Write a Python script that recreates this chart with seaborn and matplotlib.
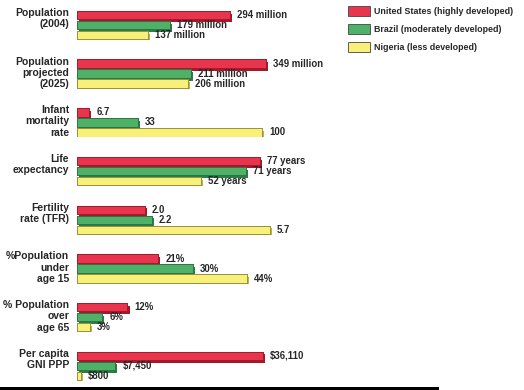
import pandas as pd
import matplotlib.pyplot as plt
import seaborn as sns
from matplotlib import patheffects
from matplotlib.patches import Patch, Rectangle

sns.set_style('white')
plt.rcParams['font.family'] = ['Liberation Sans', 'DejaVu Sans']
plt.rcParams['font.weight'] = 'bold'

# Data
countries = ['United States (highly developed)', 'Brazil (moderately developed)',
             'Nigeria (less developed)']
indicators = ['Population\n(2004)', 'Population\nprojected\n(2025)', 'Infant\nmortality\nrate',
              'Life\nexpectancy', 'Fertility\nrate (TFR)', '%Population\nunder\nage 15',
              '% Population\nover\nage 65', 'Per capita\nGNI PPP']
us = [294, 349, 6.7, 77, 2.0, 21, 12, 36110]
brazil = [179, 211, 33, 71, 2.2, 30, 6, 7450]
nigeria = [137, 206, 100, 52, 5.7, 44, 3, 800]
us_text = ['294 million', '349 million', '6.7', '77 years', '2.0', '21%', '12%', '$36,110']
brazil_text = ['179 million', '211 million', '33', '71 years', '2.2', '30%', '6%', '$7,450']
nigeria_text = ['137 million', '206 million', '100', '52 years', '5.7', '44%', '3%', '$800']

# each indicator has its own scale
x_max = [385, 370, 108, 84, 5.9, 51.7, 47.6, 38800]

colors = ['#e8344c', '#4fb068', '#f9f07a']
edges = ['#9c1a2a', '#2a7040', '#8f8a3a']
shadows = ['#a3182b', '#2f7a47', '#bdb148']

W, H = 524, 390
fig = plt.figure(figsize=(W / 100, H / 100), dpi=100)

for i, name in enumerate(indicators):
    top = 10 + i * 48.7
    ax = fig.add_axes([77 / W, 1 - (top + 30) / H, 200 / W, 30 / H])
    df = pd.DataFrame({'country': countries,
                       'value': [us[i], brazil[i], nigeria[i]],
                       'indicator': [name] * 3})
    sns.barplot(data=df, x='value', y='indicator', hue='country', hue_order=countries,
                palette=colors, saturation=1, orient='h', gap=0.15, legend=False, ax=ax)
    texts = [us_text[i], brazil_text[i], nigeria_text[i]]
    for j, cont in enumerate(ax.containers):
        for p in cont:
            p.set_edgecolor(edges[j])
            p.set_linewidth(0.6)
            p.set_path_effects([
                patheffects.withSimplePatchShadow(offset=(1.5, -2), shadow_rgbFace=shadows[j], alpha=1.0),
                patheffects.Normal()])
        ax.bar_label(cont, labels=[texts[j]], padding=5, fontsize=6.9, fontweight='bold')
    ax.set_xlim(0, x_max[i])
    ax.set_ylim(0.4, -0.4)
    ax.axis('off')
    ax.text(-0.04, 1.07, name, transform=ax.transAxes, ha='right', va='top',
            multialignment='right', fontsize=7.5, fontweight='bold', linespacing=1.15)

# legend
handles = [Patch(facecolor=c, edgecolor='#444444', linewidth=0.6) for c in colors]
fig.legend(handles, countries, loc='upper left', bbox_to_anchor=(344 / W, 1 - 2 / H),
           frameon=False, fontsize=6.4, handlelength=2.4, handleheight=1.2,
           labelspacing=0.95, handletextpad=0.45, borderpad=0)

# black strip at the bottom of the image
fig.add_artist(Rectangle((0, 0), 439 / W, 3 / H, transform=fig.transFigure,
                         color='black', linewidth=0))

fig.savefig('out.png', dpi=100)
